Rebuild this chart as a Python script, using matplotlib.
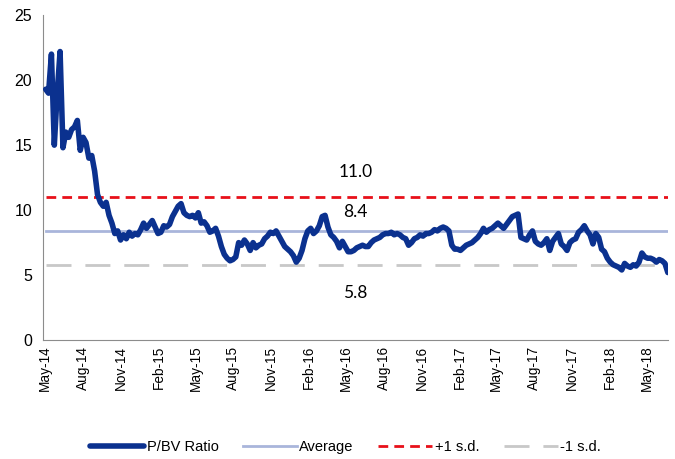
import matplotlib
matplotlib.use("Agg")
import matplotlib.pyplot as plt
import matplotlib.dates as mdates
import numpy as np
import pandas as pd

# weekly P/BV readings, May-14 to Jul-18
pbv = [19.3, 19.0, 22.0, 15.0, 19.0, 22.2, 14.8, 16.0, 15.6, 16.2,
       16.4, 16.9, 14.6, 15.6, 15.2, 14.0, 14.2, 13.0, 11.2, 10.6,
       10.3, 10.6, 9.6, 9.0, 8.2, 8.4, 7.7, 8.1, 7.8, 8.3,
       8.0, 8.2, 8.1, 8.5, 9.0, 8.6, 8.9, 9.2, 8.7, 8.2,
       8.3, 8.8, 8.7, 8.9, 9.5, 9.9, 10.3, 10.5, 9.8, 9.6,
       9.5, 9.6, 9.4, 9.8, 9.0, 9.1, 8.8, 8.3, 8.4, 8.6,
       8.0, 7.2, 6.6, 6.3, 6.1, 6.2, 6.4, 7.5, 7.3, 7.7,
       7.4, 6.9, 7.5, 7.1, 7.3, 7.4, 7.8, 8.0, 8.3, 8.2,
       8.4, 8.0, 7.6, 7.2, 7.0, 6.8, 6.5, 6.0, 6.3, 6.9,
       7.8, 8.4, 8.6, 8.2, 8.4, 8.8, 9.5, 9.6, 8.7, 8.1,
       7.9, 7.6, 7.1, 7.6, 7.2, 6.8, 6.8, 6.9, 7.1, 7.2,
       7.3, 7.2, 7.2, 7.5, 7.7, 7.8, 7.9, 8.1, 8.2, 8.2,
       8.3, 8.1, 8.2, 8.1, 7.9, 7.8, 7.3, 7.5, 7.8, 7.9,
       8.1, 8.0, 8.2, 8.2, 8.3, 8.5, 8.4, 8.6, 8.7, 8.6,
       8.4, 7.3, 7.0, 7.0, 6.9, 7.1, 7.3, 7.4, 7.5, 7.7,
       7.9, 8.2, 8.6, 8.3, 8.5, 8.6, 8.8, 9.0, 8.8, 8.6,
       8.9, 9.2, 9.5, 9.6, 9.7, 7.9, 7.8, 7.7, 8.1, 8.4,
       7.6, 7.4, 7.3, 7.5, 7.8, 6.9, 7.6, 7.9, 8.2, 7.4,
       7.2, 6.9, 7.5, 7.7, 7.8, 8.3, 8.5, 8.8, 8.4, 8.1,
       7.4, 8.2, 7.9, 7.0, 6.8, 6.3, 6.0, 5.8, 5.7, 5.6,
       5.4, 5.9, 5.7, 5.6, 5.8, 5.7, 6.0, 6.7, 6.4, 6.3,
       6.3, 6.2, 6.0, 6.2, 6.1, 5.9, 5.2]
dates = pd.date_range("2014-05-02", periods=len(pbv), freq="7D")

average = 8.4
plus_sd = 11.0
minus_sd = 5.8

tick_dates = pd.date_range("2014-05-01", "2018-05-01", freq="3MS")

fig = plt.figure(figsize=(6.75, 4.59), dpi=100)
ax = fig.add_axes([0.064, 0.259, 0.926, 0.708])

ax.plot(dates, pbv, color="#0B318F", lw=4.0, solid_capstyle="round",
        solid_joinstyle="round", label="P/BV Ratio", zorder=4)
ax.plot([dates[0], dates[-1]], [average] * 2, color="#A9B5DB", lw=2.0,
        label="Average", zorder=2)
ax.plot([dates[0], dates[-1]], [plus_sd] * 2, color="#E8101A", lw=2.0,
        dashes=(3.5, 2.2), label="+1 s.d.", zorder=2)
ax.plot([dates[0], dates[-1]], [minus_sd] * 2, color="#C8C8C8", lw=2.0,
        dashes=(9, 5), label="-1 s.d.", zorder=2)

mid = pd.Timestamp("2016-05-24")
ax.text(mid, 12.9, "%.1f" % plus_sd, ha="center", va="center",
        fontsize=12.5, family="Lato")
ax.text(mid, 9.85, "%.1f" % average, ha="center", va="center",
        fontsize=12.5, family="Lato")
ax.text(mid, 3.6, "%.1f" % minus_sd, ha="center", va="center",
        fontsize=12.5, family="Lato")

ax.set_ylim(0, 25)
ax.set_yticks(range(0, 26, 5))
ax.set_xlim(pd.Timestamp("2014-04-26"), dates[-1] + pd.Timedelta(days=1))
ax.set_xticks(tick_dates)
ax.xaxis.set_major_formatter(mdates.DateFormatter("%b-%y"))
for lab in ax.get_xticklabels():
    lab.set_rotation(90)

ax.tick_params(axis="both", length=0)
ax.tick_params(axis="x", labelsize=9.8, pad=4)
ax.tick_params(axis="y", labelsize=11.5, pad=8)
for lab in ax.get_xticklabels() + ax.get_yticklabels():
    lab.set_family("Liberation Sans")

ax.spines["top"].set_visible(False)
ax.spines["right"].set_visible(False)
ax.spines["left"].set_color("#8C8C8C")
ax.spines["bottom"].set_color("#8C8C8C")

leg = fig.legend(loc="center", bbox_to_anchor=(0.512, 0.027), ncol=4,
                 frameon=False, handlelength=3.7, columnspacing=1.7,
                 handletextpad=0.15, prop={"family": "Liberation Sans", "size": 10.5})

fig.savefig("out.png", dpi=100)
